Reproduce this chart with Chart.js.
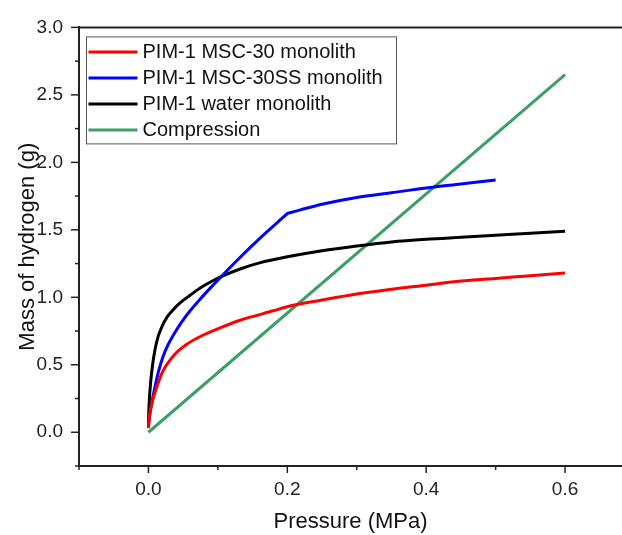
<!DOCTYPE html>
<html>
<head>
<meta charset="utf-8">
<script src="https://cdn.jsdelivr.net/npm/chart.js@4/dist/chart.umd.min.js"></script>
<style>
  html, body { margin: 0; padding: 0; background: #fff; overflow: hidden; }
</style>
</head>
<body>
<canvas id="h2Chart" width="622" height="535"></canvas>
<script>
// values
const pressRed = [0, 0.001, 0.003, 0.006, 0.011, 0.0206, 0.0374, 0.056, 0.075, 0.104, 0.132, 0.18, 0.204, 0.25, 0.3, 0.35, 0.4, 0.45, 0.5, 0.55, 0.6];
const massRed = [0.03, 0.10, 0.17, 0.235, 0.32, 0.45, 0.575, 0.655, 0.71, 0.775, 0.83, 0.90, 0.935, 0.98, 1.025, 1.06, 1.09, 1.12, 1.14, 1.16, 1.18];

const pressBlue = [0, 0.001, 0.003, 0.006, 0.01, 0.015, 0.021, 0.028, 0.036, 0.047, 0.06, 0.075, 0.094, 0.125, 0.16, 0.195, 0.2, 0.205, 0.22, 0.25, 0.3, 0.35, 0.4, 0.45, 0.5];
const massBlue = [0.04, 0.09, 0.16, 0.25, 0.35, 0.46, 0.56, 0.645, 0.72, 0.81, 0.90, 0.99, 1.095, 1.26, 1.435, 1.597, 1.62, 1.628, 1.65, 1.69, 1.74, 1.775, 1.81, 1.84, 1.87];

const pressBlack = [0, 0.0005, 0.0014, 0.003, 0.0055, 0.009, 0.014, 0.02, 0.027, 0.036, 0.046, 0.06, 0.075, 0.09, 0.108, 0.132, 0.16, 0.2, 0.25, 0.3, 0.35, 0.4, 0.45, 0.5, 0.55, 0.6];
const massBlack = [0.04, 0.15, 0.25, 0.36, 0.48, 0.60, 0.71, 0.79, 0.855, 0.91, 0.96, 1.015, 1.07, 1.115, 1.16, 1.21, 1.255, 1.30, 1.345, 1.38, 1.41, 1.43, 1.445, 1.46, 1.475, 1.49];

const pressComp = [0, 0.6];
const massComp = [0, 2.65];

const seriesNames = ['PIM-1 MSC-30 monolith', 'PIM-1 MSC-30SS monolith', 'PIM-1 water monolith', 'Compression'];

const xMajor = [0, 0.2, 0.4, 0.6];
const xMinor = [-0.1, 0.1, 0.3, 0.5];
const yMajor = [0, 0.5, 1.0, 1.5, 2.0, 2.5, 3.0];
const yMinor = [-0.25, 0.25, 0.75, 1.25, 1.75, 2.25, 2.75];

const FONT = "'Liberation Sans', Arial, sans-serif";
const AXIS_COLOR = '#222';

function toPoints(xs, ys) {
    return xs.map((x, i) => ({ x: x, y: ys[i] }));
}

function makeSet(label, xs, ys, color) {
    return {
        label: label,
        data: toPoints(xs, ys),
        borderColor: color,
        backgroundColor: color,
        borderWidth: 3,
        pointRadius: 0,
        cubicInterpolationMode: 'monotone',
        fill: false
    };
}

// legend drawn inside the plot, top left, with a thin frame
const insideLegend = {
    id: 'insideLegend',
    afterDraw(chart) {
        const ctx = chart.ctx;
        const area = chart.chartArea;
        const bx = area.left + 7.5, by = area.top + 9.5;
        ctx.save();
        ctx.strokeStyle = '#555';
        ctx.lineWidth = 1;
        ctx.strokeRect(bx, by, 310, 107);
        ctx.font = '20px ' + FONT;
        ctx.textBaseline = 'middle';
        ctx.fillStyle = '#111';
        chart.data.datasets.forEach((ds, i) => {
            const yy = by + 15 + i * 26;
            ctx.strokeStyle = ds.borderColor;
            ctx.lineWidth = 3;
            ctx.beginPath();
            ctx.moveTo(bx + 2, yy);
            ctx.lineTo(bx + 51, yy);
            ctx.stroke();
            ctx.fillText(ds.label, bx + 56, yy + 1);
        });
        ctx.restore();
    }
};

// outward tick marks (major + minor) and the top frame line
const axisTicks = {
    id: 'axisTicks',
    afterDraw(chart) {
        const ctx = chart.ctx;
        const xs = chart.scales.x, ys = chart.scales.y;
        const area = chart.chartArea;
        ctx.save();
        ctx.strokeStyle = AXIS_COLOR;
        ctx.lineWidth = 2;
        ctx.beginPath();
        ctx.moveTo(area.left - 1, area.top);
        ctx.lineTo(chart.width, area.top);
        ctx.stroke();
        ctx.lineWidth = 1.5;
        const tickX = (v, len) => {
            const p = xs.getPixelForValue(v);
            ctx.beginPath();
            ctx.moveTo(p, area.bottom);
            ctx.lineTo(p, area.bottom + len);
            ctx.stroke();
        };
        const tickY = (v, len) => {
            const p = ys.getPixelForValue(v);
            ctx.beginPath();
            ctx.moveTo(area.left, p);
            ctx.lineTo(area.left - len, p);
            ctx.stroke();
        };
        xMajor.forEach(v => tickX(v, 7));
        xMinor.forEach(v => tickX(v, 4));
        yMajor.forEach(v => tickY(v, 8));
        yMinor.forEach(v => tickY(v, 4));
        ctx.restore();
    }
};

const ctx = document.getElementById('h2Chart').getContext('2d');

const h2Chart = new Chart(ctx, {
    type: 'line',
    data: {
        datasets: [
            makeSet(seriesNames[0], pressRed, massRed, '#ff0000'),
            makeSet(seriesNames[1], pressBlue, massBlue, '#0000ff'),
            makeSet(seriesNames[2], pressBlack, massBlack, '#000000'),
            makeSet(seriesNames[3], pressComp, massComp, '#3d9f68')
        ]
    },
    options: {
        responsive: false,
        animation: false,
        layout: { padding: { top: 19, right: 0, left: 0, bottom: 0 } },
        scales: {
            x: {
                type: 'linear',
                min: -0.1,
                max: 0.682,
                afterBuildTicks: (scale) => { scale.ticks = xMajor.map(v => ({ value: v })); },
                afterFit: (scale) => { scale.height = 69; },
                grid: { display: false, drawTicks: false },
                border: { display: true, color: AXIS_COLOR, width: 2 },
                ticks: {
                    padding: 12,
                    color: '#222',
                    font: { family: FONT, size: 19 },
                    callback: (v) => Number(v).toFixed(1)
                },
                title: {
                    display: true,
                    text: 'Pressure (MPa)',
                    color: '#111',
                    font: { family: FONT, size: 22 },
                    padding: { top: 0, bottom: 0 }
                }
            },
            y: {
                type: 'linear',
                min: -0.25,
                max: 3.0,
                afterBuildTicks: (scale) => { scale.ticks = yMajor.map(v => ({ value: v })); },
                afterFit: (scale) => { scale.width = 79; },
                grid: { display: false, drawTicks: false },
                border: { display: true, color: AXIS_COLOR, width: 2 },
                ticks: {
                    padding: 16,
                    color: '#222',
                    font: { family: FONT, size: 19 },
                    callback: (v) => Number(v).toFixed(1)
                },
                title: {
                    display: true,
                    text: 'Mass of hydrogen (g)',
                    color: '#111',
                    font: { family: FONT, size: 22 },
                    padding: { top: 15, bottom: 0 }
                }
            }
        },
        plugins: {
            legend: { display: false },
            tooltip: { enabled: false }
        }
    },
    plugins: [insideLegend, axisTicks]
});
</script>
</body>
</html>
